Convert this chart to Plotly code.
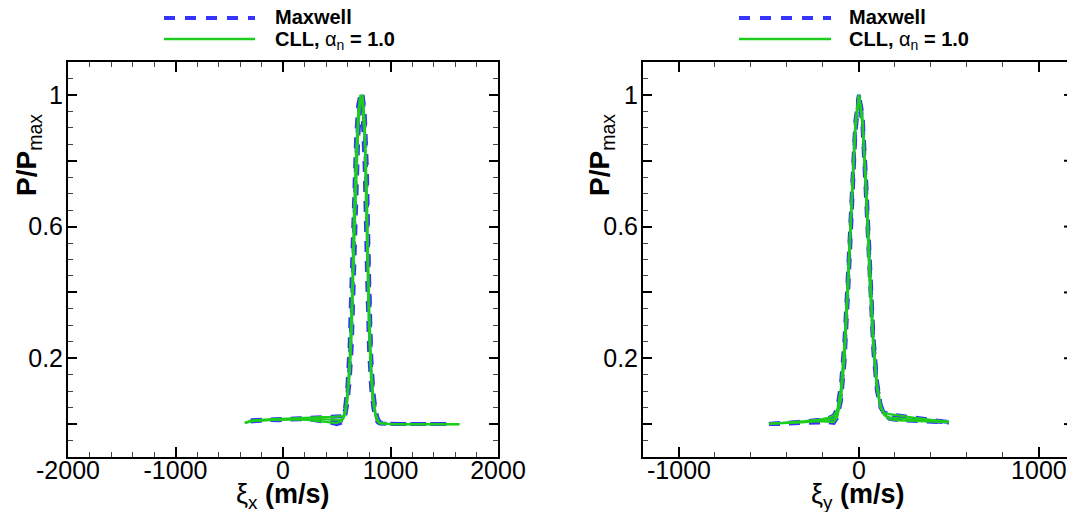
import plotly.graph_objects as go

# ---------------- data: normalised distribution P/Pmax ----------------
# xi_x panel (left)
xi_x_base = [-300, -250, -150, -50, 50, 150, 250, 350, 450, 500, 540]
xi_x_peak = [560, 580, 600, 620, 640, 660, 680, 700, 720, 740, 760, 780,
             800, 820, 840, 860, 880, 900, 950, 1000, 1100, 1200, 1300, 1400, 1540]
xi_x_cll_start = [-355]
xi_x_cll_end = [1640]

mx_x1 = [0.012, 0.012, 0.014, 0.015, 0.016, 0.018, 0.019, 0.020, 0.022, 0.022, 0.024,
         0.028, 0.055, 0.12, 0.24, 0.46, 0.70, 0.87, 0.97, 1.0, 0.95, 0.78, 0.48,
         0.23, 0.11, 0.05, 0.02, 0.006, 0.002, 0.0, 0.0, 0.0, 0.0, 0.0, 0.0, 0.0]
mx_x2 = [0.008, 0.010, 0.012, 0.014, 0.016, 0.017, 0.017, 0.016, 0.012, 0.008, 0.010,
         0.024, 0.045, 0.095, 0.18, 0.34, 0.60, 0.80, 0.93, 0.99, 1.0, 0.91, 0.68,
         0.36, 0.17, 0.08, 0.035, 0.012, 0.004, 0.001, 0.0, 0.0, 0.0, 0.0, 0.0, 0.0]
mx_x3 = [0.009, 0.011, 0.013, 0.012, 0.014, 0.015, 0.014, 0.010, 0.004, 0.0, 0.004,
         0.012, 0.028, 0.065, 0.13, 0.24, 0.46, 0.70, 0.87, 0.97, 1.0, 0.95, 0.78,
         0.46, 0.21, 0.10, 0.045, 0.018, 0.006, 0.001, 0.0, 0.0, 0.0, 0.0, 0.0, 0.0]

cll_x1 = [0.004, 0.010, 0.012, 0.015, 0.016, 0.017, 0.019, 0.020, 0.021, 0.022, 0.023, 0.022,
          0.024, 0.045, 0.10, 0.20, 0.38, 0.64, 0.83, 0.95, 1.0, 0.97, 0.86, 0.57,
          0.28, 0.13, 0.06, 0.025, 0.008, 0.002, 0.0, 0.0, 0.0, 0.0, 0.0, 0.0, 0.0, 0.0]
cll_x2 = [0.003, 0.008, 0.010, 0.013, 0.014, 0.015, 0.016, 0.016, 0.015, 0.013, 0.012, 0.012,
          0.020, 0.038, 0.088, 0.17, 0.32, 0.60, 0.79, 0.93, 0.995, 0.98, 0.90, 0.64,
          0.32, 0.15, 0.07, 0.03, 0.01, 0.003, 0.001, 0.0, 0.0, 0.0, 0.0, 0.0, 0.0, 0.0]
cll_x3 = [0.004, 0.009, 0.011, 0.012, 0.013, 0.014, 0.014, 0.012, 0.009, 0.005, 0.003, 0.008,
          0.016, 0.032, 0.075, 0.15, 0.28, 0.53, 0.75, 0.90, 0.985, 1.0, 0.92, 0.70,
          0.38, 0.18, 0.085, 0.036, 0.013, 0.004, 0.001, 0.0, 0.0, 0.0, 0.0, 0.0, 0.0, 0.0]

# xi_y panel (right)
xi_y = [-500, -400, -300, -220, -170, -140, -120, -100, -80, -60, -40, -20, 0,
        20, 40, 60, 80, 100, 120, 140, 170, 220, 300, 400, 500]

mx_y1 = [0.0, 0.003, 0.008, 0.013, 0.018, 0.026, 0.05, 0.12, 0.26, 0.47, 0.72, 0.92, 1.0,
         0.90, 0.68, 0.42, 0.22, 0.10, 0.05, 0.035, 0.03, 0.026, 0.02, 0.012, 0.006]
mx_y2 = [0.0, 0.002, 0.006, 0.010, 0.012, 0.016, 0.035, 0.09, 0.22, 0.43, 0.69, 0.90, 1.0,
         0.92, 0.71, 0.45, 0.25, 0.12, 0.055, 0.03, 0.022, 0.018, 0.015, 0.01, 0.005]
mx_y3 = [0.0, 0.002, 0.005, 0.008, 0.006, 0.004, 0.02, 0.07, 0.19, 0.40, 0.66, 0.88, 1.0,
         0.94, 0.74, 0.48, 0.27, 0.13, 0.06, 0.03, 0.016, 0.012, 0.01, 0.008, 0.005]

cll_y1 = [0.001, 0.004, 0.009, 0.014, 0.019, 0.025, 0.045, 0.11, 0.25, 0.46, 0.71, 0.92, 1.0,
          0.91, 0.69, 0.43, 0.23, 0.105, 0.05, 0.034, 0.03, 0.027, 0.02, 0.013, 0.007]
cll_y2 = [0.001, 0.003, 0.007, 0.011, 0.013, 0.015, 0.032, 0.09, 0.22, 0.44, 0.70, 0.91, 1.0,
          0.91, 0.70, 0.44, 0.24, 0.11, 0.052, 0.028, 0.02, 0.017, 0.014, 0.01, 0.006]
cll_y3 = [0.001, 0.003, 0.006, 0.009, 0.008, 0.006, 0.022, 0.075, 0.20, 0.41, 0.67, 0.89, 1.0,
          0.93, 0.73, 0.47, 0.26, 0.125, 0.058, 0.028, 0.015, 0.011, 0.009, 0.008, 0.006]

# axis ticks
x_left_ticks = [-2000, -1000, 0, 1000, 2000]
x_right_ticks = [-1000, 0, 1000]
y_ticks = [0.0, 0.2, 0.4, 0.6, 0.8, 1.0]
y_tick_text = ["", "0.2", "", "0.6", "", "1"]

legend_names = ["Maxwell", "CLL, α<sub>n</sub> = 1.0"]

# ---------------- styling ----------------
BLUE = "#3535ff"
GREEN = "#1ecc1e"
FONT = "Liberation Sans, Arial, sans-serif"
W, H = 1067, 512


def px_x(p):
    return p / W


def px_y(p):
    return 1 - p / H


xi_x_max = xi_x_base + xi_x_peak
xi_x_cll = xi_x_cll_start + xi_x_base + xi_x_peak + xi_x_cll_end

fig = go.Figure()

maxwell_line = dict(color=BLUE, width=4, dash="11px,9px")
cll_line = dict(color=GREEN, width=2.2)

for ys in (mx_x1, mx_x2, mx_x3):
    fig.add_trace(go.Scatter(x=xi_x_max, y=ys, mode="lines", line=maxwell_line,
                             showlegend=False, xaxis="x", yaxis="y"))
for ys in (mx_y1, mx_y2, mx_y3):
    fig.add_trace(go.Scatter(x=xi_y, y=ys, mode="lines", line=maxwell_line,
                             showlegend=False, xaxis="x2", yaxis="y2"))
for ys in (cll_x1, cll_x2, cll_x3):
    fig.add_trace(go.Scatter(x=xi_x_cll, y=ys, mode="lines", line=cll_line,
                             showlegend=False, xaxis="x", yaxis="y"))
for ys in (cll_y1, cll_y2, cll_y3):
    fig.add_trace(go.Scatter(x=xi_y, y=ys, mode="lines", line=cll_line,
                             showlegend=False, xaxis="x2", yaxis="y2"))

tickfont = dict(family=FONT, size=25, color="black")
y_dom = [px_y(457), px_y(62)]

common_x = dict(showline=True, linecolor="black", linewidth=2, ticks="inside",
                ticklen=10, tickwidth=2, tickcolor="black", showgrid=False,
                zeroline=False, tickfont=tickfont, tickmode="array", automargin=False,
                ticklabelstandoff=-10,
                minor=dict(dtick=200, tick0=0, ticks="inside", ticklen=5,
                           tickwidth=1, tickcolor="#444"))
common_y = dict(showline=True, linecolor="black", linewidth=2, ticks="inside",
                ticklen=9, tickwidth=2, tickcolor="black", showgrid=False,
                zeroline=False, tickfont=tickfont, tickmode="array", automargin=False,
                tickvals=y_ticks, ticktext=y_tick_text, range=[-0.1, 1.1],
                ticklabelstandoff=-2,
                minor=dict(dtick=0.05, tick0=0, ticks="inside", ticklen=5,
                           tickwidth=1, tickcolor="#444"))

fig.update_layout(
    width=W, height=H,
    margin=dict(l=0, r=0, t=0, b=0, pad=0),
    paper_bgcolor="white", plot_bgcolor="white",
    font=dict(family=FONT, color="black"),
    xaxis=dict(common_x, domain=[px_x(68), px_x(498)], range=[-2000, 2000],
               tickvals=x_left_ticks, ticktext=[str(v) for v in x_left_ticks],
               mirror="ticks", anchor="y"),
    yaxis=dict(common_y, domain=y_dom, mirror="ticks", anchor="x"),
    xaxis2=dict(common_x, domain=[px_x(643), 1.0], range=[-1200, 1156],
                tickvals=x_right_ticks, ticktext=[str(v) for v in x_right_ticks],
                mirror="ticks", anchor="y2"),
    yaxis2=dict(common_y, domain=y_dom, mirror=False, anchor="x2"),
)

# short tick stubs along the clipped right edge of the second panel
for v in y_ticks:
    fig.add_shape(type="line", xref="paper", yref="y2", x0=1 - 3 / W, x1=1,
                  y0=v, y1=v, line=dict(color="black", width=2))

# axis titles
title_font = dict(family=FONT, size=28, color="black")
ylab = "<b>P/P</b><sub>max</sub>"
for xc in (28, 601):
    fig.add_annotation(text=ylab, xref="paper", yref="paper", x=px_x(xc), y=px_y(155),
                       xanchor="center", yanchor="middle", textangle=-90,
                       showarrow=False, font=title_font)
for xc, sub in ((283, "x"), (858, "y")):
    fig.add_annotation(text=f"ξ<sub>{sub}</sub> <b>(m/s)</b>", xref="paper", yref="paper",
                       x=px_x(xc), y=px_y(496), xanchor="center", yanchor="middle",
                       showarrow=False, font=dict(family=FONT, size=27, color="black"))

# legend boxes drawn for each panel
leg_font = dict(family=FONT, size=20, color="black")
for x0, x1, xt in ((164, 255, 273), (739, 831, 847)):
    fig.add_shape(type="line", xref="paper", yref="paper", x0=px_x(x0), x1=px_x(x1),
                  y0=px_y(18), y1=px_y(18), line=dict(color=BLUE, width=4, dash="11px,10px"))
    fig.add_shape(type="line", xref="paper", yref="paper", x0=px_x(x0), x1=px_x(x1),
                  y0=px_y(39), y1=px_y(39), line=dict(color=GREEN, width=2.5))
    fig.add_annotation(text=f"<b>{legend_names[0]}</b>", xref="paper", yref="paper",
                       x=px_x(xt), y=px_y(17), xanchor="left", yanchor="middle",
                       showarrow=False, font=leg_font)
    fig.add_annotation(text="<b>CLL, </b>α<sub>n</sub><b> = 1.0</b>", xref="paper", yref="paper",
                       x=px_x(xt), y=px_y(40), xanchor="left", yanchor="middle",
                       showarrow=False, font=leg_font)

fig.write_html("out.html")
